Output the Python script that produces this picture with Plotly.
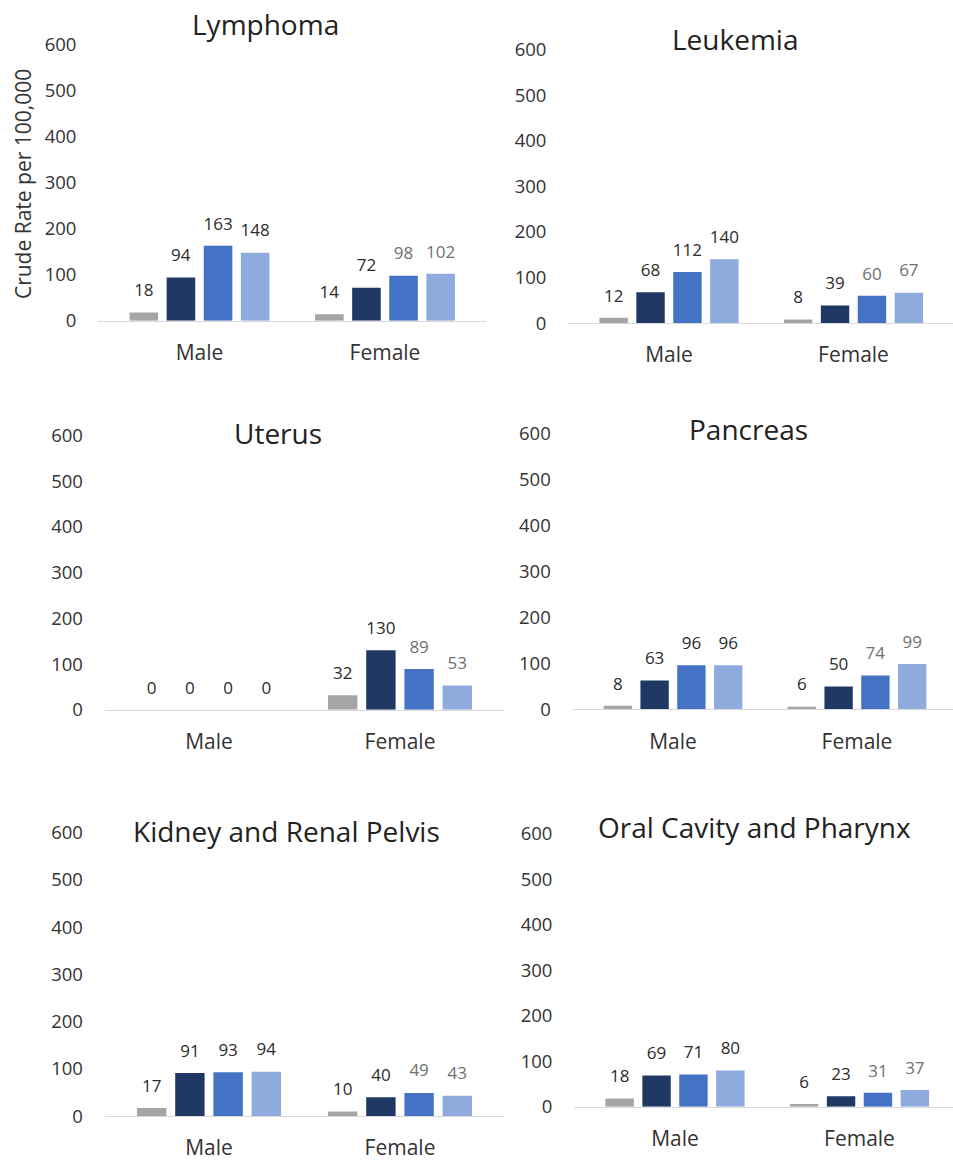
import plotly.graph_objects as go

# ---------------- data ----------------
panels = ["Lymphoma", "Leukemia", "Uterus", "Pancreas",
          "Kidney and Renal Pelvis", "Oral Cavity and Pharynx"]
sexes = ["Male", "Female"]
series_names = ["Series 1", "Series 2", "Series 3", "Series 4"]

# values per panel: [male series1..4], [female series1..4]
lymphoma = [[18, 94, 163, 148], [14, 72, 98, 102]]
leukemia = [[12, 68, 112, 140], [8, 39, 60, 67]]
uterus = [[0, 0, 0, 0], [32, 130, 89, 53]]
pancreas = [[8, 63, 96, 96], [6, 50, 74, 99]]
kidney = [[17, 91, 93, 94], [10, 40, 49, 43]]
oral = [[18, 69, 71, 80], [6, 23, 31, 37]]
panel_values = [lymphoma, leukemia, uterus, pancreas, kidney, oral]

y_ticks = [0, 100, 200, 300, 400, 500, 600]
y_title = "Crude Rate per 100,000"

# ---------------- styles ----------------
bar_colors = ["#A5A5A5", "#203864", "#4472C4", "#8FAADC"]
label_dark = "#2B2B2B"
label_gray = "#707070"
FONT = "Open Sans"

W, H = 953, 1161
# vertical correction for how the page is photographed
V_SCALE, V_OFF = 0.98, 13.5


def fy(y):
    return (y - V_OFF) / V_SCALE


# panel geometry in pixels: male-group centre, category unit, y(600), y(0)
geom = [
    (199.5, 185.5, 44.5, 321.0),
    (669.0, 184.5, 49.0, 323.5),
    (209.0, 191.0, 436.0, 711.0),
    (673.0, 184.0, 434.0, 710.7),
    (209.0, 191.0, 834.0, 1118.3),
    (675.0, 184.5, 835.0, 1109.0),
]
title_pos = [(265, 24), (735, 39), (278, 434), (748, 430), (286, 833), (754, 828)]
label_pad = 18  # gap between bar top and its value label, in data units

fig = go.Figure()
annotations = []

for k, (name, vals) in enumerate(zip(panels, panel_values)):
    sfx = "" if k == 0 else str(k + 1)
    xref, yref = "x" + sfx, "y" + sfx
    mc, unit, ytop, ybot = geom[k]
    lpx = max(0.0, mc - 0.545 * unit)
    rpx = min(float(W), mc + 1.545 * unit)

    fig.layout["xaxis" + sfx] = dict(
        domain=[lpx / W, rpx / W], anchor=yref, type="category",
        range=[(lpx - mc) / unit, (rpx - mc) / unit],
        showline=True, linecolor="#D9D9D9", linewidth=1,
        showgrid=False, zeroline=False, ticks="",
        tickfont=dict(family=FONT, size=21, color="#333333"),
        ticklabelstandoff=13, fixedrange=True,
    )
    fig.layout["yaxis" + sfx] = dict(
        domain=[1 - fy(ybot) / H, 1 - fy(ytop) / H], anchor=xref,
        range=[0, 600], tickvals=y_ticks,
        showline=False, showgrid=False, zeroline=False, ticks="",
        tickfont=dict(family=FONT, size=18.5, color="#333333"),
        ticklabelstandoff=21, fixedrange=True,
    )

    for i in range(4):
        yv = [vals[0][i], vals[1][i]]
        fig.add_trace(go.Bar(
            x=sexes, y=yv, xaxis=xref, yaxis=yref, name=series_names[i],
            marker=dict(color=bar_colors[i], line=dict(width=0)),
            offsetgroup=str(i), showlegend=False, hoverinfo="y",
        ))
        lab_colors = [label_dark, label_gray if i >= 2 else label_dark]
        fig.add_trace(go.Bar(
            x=sexes, y=[label_pad, label_pad], base=yv,
            xaxis=xref, yaxis=yref,
            marker=dict(color="rgba(0,0,0,0)", line=dict(width=0)),
            offsetgroup=str(i), showlegend=False, hoverinfo="skip",
            text=[str(v) for v in yv], textposition="outside",
            textfont=dict(family=FONT, size=17, color=lab_colors),
            constraintext="none", cliponaxis=False,
        ))

    tx, ty = title_pos[k]
    annotations.append(dict(
        text=name, x=tx / W, y=1 - fy(ty) / H, xref="paper", yref="paper",
        xanchor="center", yanchor="middle", showarrow=False,
        font=dict(family=FONT, size=28, color="#222222"),
    ))

annotations.append(dict(
    text=y_title, x=23 / W, y=1 - fy(184) / H, xref="paper", yref="paper",
    xanchor="center", yanchor="middle", showarrow=False, textangle=-90,
    font=dict(family=FONT, size=21, color="#333333"),
))

fig.update_layout(
    width=W, height=H, margin=dict(l=0, r=0, t=0, b=0),
    paper_bgcolor="white", plot_bgcolor="white",
    barmode="group", bargap=0.2, bargroupgap=0.23,
    showlegend=False, annotations=annotations,
    font=dict(family=FONT),
)

fig.write_html(
    "out.html",
    config={"displayModeBar": False},
    post_script=(
        "document.documentElement.style.margin='0';"
        "document.body.style.margin='0';"
        "document.body.style.overflow='hidden';"
        "document.documentElement.style.overflow='hidden';"
        "var d=document.getElementById('{plot_id}');"
        "d.style.position='fixed';d.style.top='0px';d.style.left='0px';"
    ),
)
